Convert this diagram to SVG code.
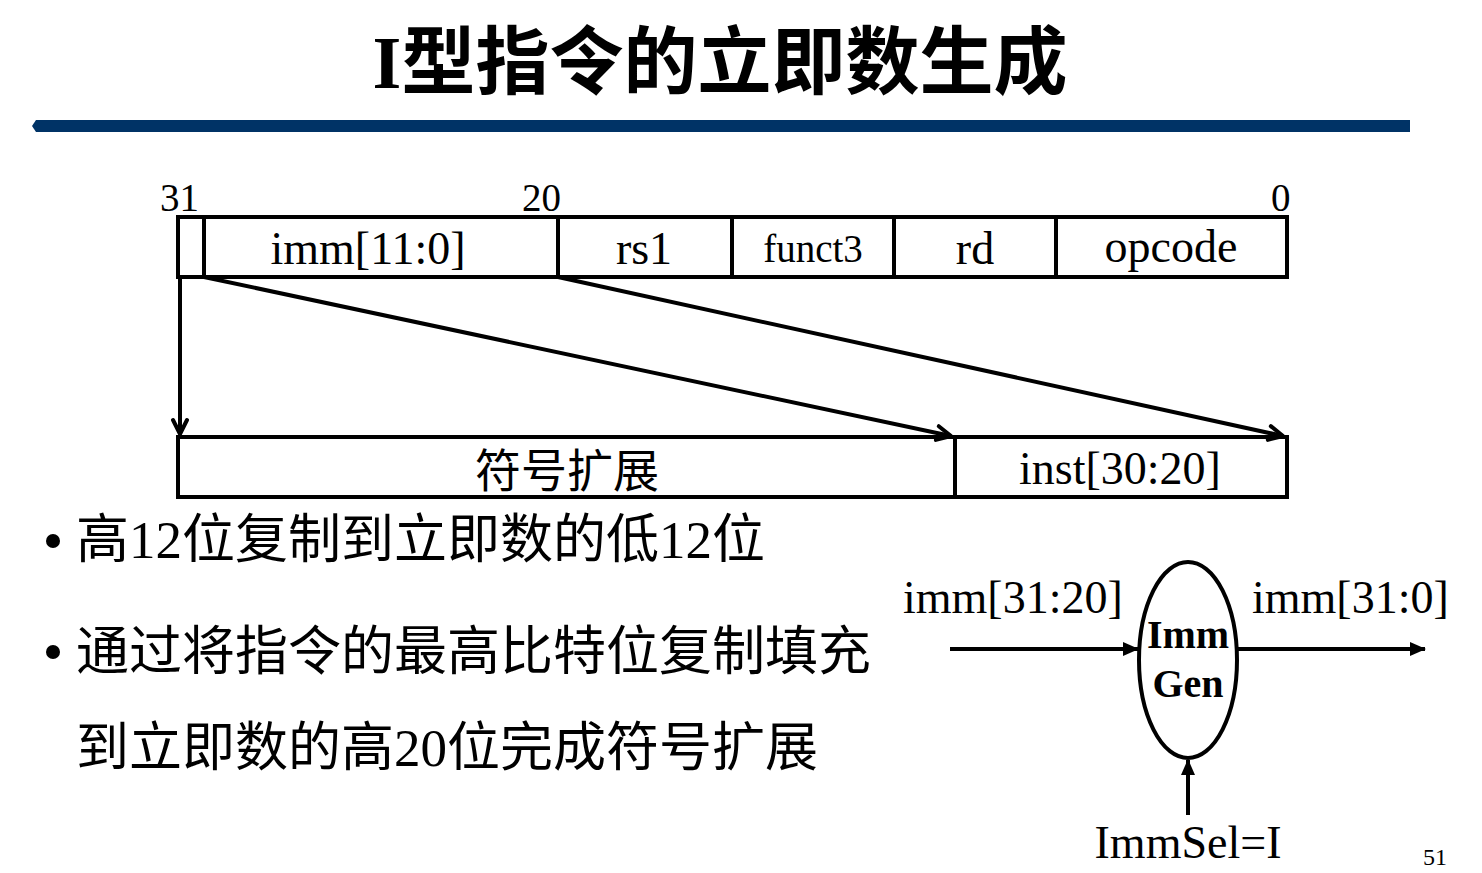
<svg xmlns="http://www.w3.org/2000/svg" width="1482" height="873" viewBox="0 0 1482 873">
<defs>
<style>
.t{font-family:"Liberation Serif","Noto Sans CJK SC",serif;fill:#000}
.box{fill:none;stroke:#000;stroke-width:4}
.ln{stroke:#000;stroke-width:4;fill:none}
.c{text-anchor:middle}
</style>
<marker id="open" viewBox="0 0 20 20" refX="18" refY="10" markerWidth="20" markerHeight="20" markerUnits="userSpaceOnUse" orient="auto">
<path d="M4,3 L18,10 L4,17" fill="none" stroke="#000" stroke-width="4" stroke-linecap="round" stroke-linejoin="round"/>
</marker>
<marker id="solid" viewBox="0 0 16 16" refX="15" refY="8" markerWidth="16" markerHeight="16" markerUnits="userSpaceOnUse" orient="auto">
<path d="M0,1 L16,8 L0,15 Z" fill="#000"/>
</marker>
</defs>
<rect width="1482" height="873" fill="#fff"/>
<text class="t c" x="720" y="88" font-size="74" font-weight="bold">I型指令的立即数生成</text>
<path d="M36,120 L1410,120 L1410,132 L36,132 L32,126 Z" fill="#003366"/>

<g id="inst-reg">
<rect class="box" x="178" y="217" width="1109" height="60"/>
<line class="ln" x1="204" y1="217" x2="204" y2="277"/>
<line class="ln" x1="558" y1="217" x2="558" y2="277"/>
<line class="ln" x1="732" y1="217" x2="732" y2="277"/>
<line class="ln" x1="894" y1="217" x2="894" y2="277"/>
<line class="ln" x1="1056" y1="217" x2="1056" y2="277"/>
<text class="t" x="160" y="211" font-size="39">31</text>
<text class="t" x="522" y="211" font-size="39">20</text>
<text class="t" x="1271" y="211" font-size="39">0</text>
<text class="t c" x="368" y="264" font-size="46">imm[11:0]</text>
<text class="t c" x="644" y="264" font-size="46">rs1</text>
<text class="t c" x="813" y="262" font-size="39">funct3</text>
<text class="t c" x="975" y="264" font-size="46">rd</text>
<text class="t c" x="1171" y="262" font-size="46">opcode</text>
</g>

<g id="imm-reg">
<rect class="box" x="178" y="437" width="1109" height="60"/>
<line class="ln" x1="955" y1="437" x2="955" y2="497"/>
<text class="t c" x="567" y="487" font-size="46">符号扩展</text>
<text class="t c" x="1120" y="484" font-size="46">inst[30:20]</text>
</g>

<g id="connectors">
<line class="ln" x1="180" y1="277" x2="180" y2="434" marker-end="url(#open)"/>
<line class="ln" x1="204" y1="277" x2="951" y2="436" marker-end="url(#open)"/>
<line class="ln" x1="558" y1="277" x2="1283" y2="436" marker-end="url(#open)"/>
<line class="ln" x1="950" y1="649" x2="1138" y2="649" marker-end="url(#solid)"/>
<line class="ln" x1="1238" y1="649" x2="1425" y2="649" marker-end="url(#solid)"/>
<line class="ln" x1="1188" y1="815" x2="1188" y2="760" marker-end="url(#solid)"/>
</g>

<g id="bullets">
<circle cx="53" cy="541" r="7" fill="#000"/>
<text class="t" x="76" y="558" font-size="53">高12位复制到立即数的低12位</text>
<circle cx="53" cy="652" r="7" fill="#000"/>
<text class="t" x="76" y="670" font-size="53">通过将指令的最高比特位复制填充</text>
<text class="t" x="76" y="766" font-size="53">到立即数的高20位完成符号扩展</text>
</g>

<g id="immgen">
<ellipse cx="1188" cy="660" rx="49" ry="98" fill="none" stroke="#000" stroke-width="4"/>
<text class="t c" x="1188" y="648" font-size="40" font-weight="bold">Imm</text>
<text class="t c" x="1188" y="697" font-size="40" font-weight="bold">Gen</text>
</g>
<text class="t" x="903" y="613" font-size="46">imm[31:20]</text>
<text class="t" x="1252" y="613" font-size="46">imm[31:0]</text>
<text class="t c" x="1188" y="858" font-size="46">ImmSel=I</text>
<text class="t" x="1423" y="865" font-size="24">51</text>
</svg>
